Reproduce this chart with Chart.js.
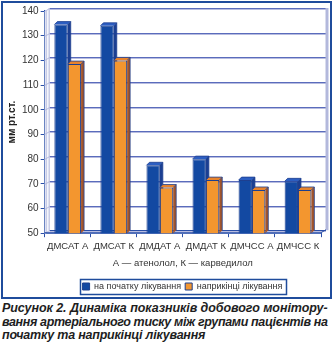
<!DOCTYPE html>
<html>
<head>
<meta charset="utf-8">
<script src="https://cdn.jsdelivr.net/npm/chart.js@4/dist/chart.umd.min.js"></script>
<style>
  body { margin: 0; background: #fff; }
  .box { position: absolute; left: 1px; top: 1px; width: 327px; height: 294px; border: 2px solid #1f4c9c; }
  #chart { position: absolute; left: 3px; top: 3px; }
  .caption { position: absolute; left: 2px; top: 302px; width: 326px; font-family: "Liberation Sans", Arial, sans-serif;
    font-weight: bold; font-style: italic; font-size: 12.5px; line-height: 13.5px; color: #1e1e1e; }
  .caption div { white-space: nowrap; }
</style>
</head>
<body>
<div class="box"></div>
<canvas id="chart" width="327" height="298"></canvas>
<div class="caption" id="caption">
  <div>Рисунок 2. Динаміка показників добового монітору-</div>
  <div>вання артеріального тиску між групами пацієнтів на</div>
  <div>початку та наприкінці лікування</div>
</div>
<script>
const categories = ['ДМСАТ А', 'ДМСАТ К', 'ДМДАТ А', 'ДМДАТ К', 'ДМЧСС А', 'ДМЧСС К'];
const startValues = [134.5, 134, 77.5, 80, 71.5, 71];
const endValues = [118.5, 120, 68.5, 71.5, 67.5, 67.5];
const yTicks = [50, 60, 70, 80, 90, 100, 110, 120, 130, 140];

const DX = 3, DY = 3;     // bar depth
const WX = 5, WY = 3;     // wall depth

function shade(ctx, pts, fill) {
  ctx.beginPath();
  ctx.moveTo(pts[0][0], pts[0][1]);
  for (let i = 1; i < pts.length; i++) ctx.lineTo(pts[i][0], pts[i][1]);
  ctx.closePath();
  ctx.fillStyle = fill;
  ctx.fill();
}

// walls, floor and gridlines drawn behind the bars
const walls = {
  id: 'walls',
  beforeDatasetsDraw(chart) {
    const { ctx, chartArea: a, scales: { y } } = chart;
    ctx.save();
    // floor
    shade(ctx, [[a.left, a.bottom], [a.right, a.bottom], [a.right + WX, a.bottom - WY], [a.left + WX, a.bottom - WY]], '#eef0fa');
    // left side wall
    shade(ctx, [[a.left, a.bottom], [a.left + WX, a.bottom - WY], [a.left + WX, a.top - WY], [a.left, a.top]], '#f4f5fb');
    ctx.lineWidth = 1;
    yTicks.forEach(v => {
      const py = Math.round(y.getPixelForValue(v)) + 0.5;
      ctx.strokeStyle = '#b7bce0';
      ctx.beginPath(); ctx.moveTo(a.left, py); ctx.lineTo(a.left + WX, py - WY); ctx.stroke();
      ctx.beginPath(); ctx.moveTo(a.left + WX, py - WY + 1); ctx.lineTo(a.right + WX, py - WY + 1); ctx.stroke();
      ctx.strokeStyle = v === 50 ? '#2a4fa8' : '#5a6cbc';
      ctx.beginPath(); ctx.moveTo(a.left + WX, py - WY); ctx.lineTo(a.right + WX, py - WY); ctx.stroke();
    });
    // back wall edges
    ctx.strokeStyle = '#b3b8dc';
    ctx.lineWidth = 3;
    ctx.beginPath(); ctx.moveTo(a.right + WX + 1, a.top - WY); ctx.lineTo(a.right + WX + 1, a.bottom - WY); ctx.stroke();
    ctx.lineWidth = 1;
    ctx.beginPath(); ctx.moveTo(a.left + WX - 0.5, a.top - WY); ctx.lineTo(a.left + WX - 0.5, a.bottom - WY); ctx.stroke();
    ctx.beginPath(); ctx.moveTo(a.left + 1.5, a.top); ctx.lineTo(a.left + 1.5, a.bottom); ctx.stroke();
    // floor edges
    ctx.strokeStyle = '#2a4fa8';
    ctx.beginPath();
    ctx.moveTo(a.left, a.bottom - 0.5); ctx.lineTo(a.right, a.bottom - 0.5);
    ctx.lineTo(a.right + WX, a.bottom - WY - 0.5);
    ctx.stroke();

    // bar side and top faces
    const sides = ['#1b3f92', '#a3552b'];
    const tops = ['#2c5ec2', '#e8832c'];
    const metas = [chart.getDatasetMeta(0), chart.getDatasetMeta(1)];
    categories.forEach((c, i) => {
      metas.forEach((m, d) => {
        const el = m.data[i];
        const l = el.x - el.width / 2, r = el.x + el.width / 2, t = el.y, b = Math.min(el.base, a.bottom);
        shade(ctx, [[r, b], [r + DX, b - DY], [r + DX, t - DY], [r, t]], sides[d]);
        shade(ctx, [[l, t], [r, t], [r + DX, t - DY], [l + DX, t - DY]], tops[d]);
        ctx.strokeStyle = '#1d3f8f';
        ctx.lineWidth = 0.8;
        ctx.beginPath();
        ctx.moveTo(l, t); ctx.lineTo(l + DX, t - DY); ctx.lineTo(r + DX, t - DY); ctx.lineTo(r + DX, b - DY);
        ctx.moveTo(r, t); ctx.lineTo(r + DX, t - DY);
        ctx.stroke();
      });
    });
    ctx.restore();
  }
};

// legend sits right of centre in a frame
const legendFrame = {
  id: 'legendFrame',
  afterLayout(chart) {
    chart.legend.left += 40;
  },
  afterDraw(chart) {
    const boxes = chart.legend.legendHitBoxes;
    if (!boxes || !boxes.length) return;
    const l = Math.min(...boxes.map(b => b.left)) - 3;
    const r = Math.max(...boxes.map(b => b.left + b.width)) + 3;
    const t = Math.min(...boxes.map(b => b.top)) - 3;
    const btm = Math.max(...boxes.map(b => b.top + b.height)) + 3;
    const ctx = chart.ctx;
    ctx.save();
    ctx.strokeStyle = '#1f4c9c';
    ctx.lineWidth = 1.5;
    ctx.strokeRect(Math.round(l) + 0.5, Math.round(t) + 0.5, Math.round(r - l), Math.round(btm - t));
    ctx.restore();
  }
};

new Chart(document.getElementById('chart'), {
  type: 'bar',
  data: {
    labels: categories,
    datasets: [
      { label: 'на початку лікування', data: startValues, backgroundColor: '#1349a2', borderColor: '#1d3f8f', borderWidth: 1 },
      { label: 'наприкінці лікування', data: endValues, backgroundColor: '#f3962f', borderColor: '#1d3f8f', borderWidth: 1 }
    ]
  },
  options: {
    responsive: false,
    animation: false,
    events: [],
    categoryPercentage: 0.58,
    barPercentage: 1,
    layout: { padding: { top: 6, right: 9, left: 1, bottom: 0 } },
    plugins: {
      tooltip: { enabled: false },
      legend: {
        position: 'bottom',
        labels: { boxWidth: 7, boxHeight: 7, padding: 4, color: '#333', font: { family: 'Liberation Sans, Arial', size: 9 } }
      }
    },
    scales: {
      x: {
        offset: true,
        grid: { offset: true, drawOnChartArea: false, tickLength: 4, color: '#2a4fa8' },
        border: { color: '#2a4fa8', width: 1 },
        ticks: { color: '#333', padding: 3, maxRotation: 0, minRotation: 0, autoSkip: false,
          font: { family: 'Liberation Sans, Arial', size: 9.5 } },
        title: { display: true, text: 'А — атенолол, К — карведилол', color: '#333', padding: { top: 3, bottom: 9 },
          font: { family: 'Liberation Sans, Arial', size: 9.5 } }
      },
      y: {
        min: 50, max: 140,
        afterBuildTicks: s => { s.ticks = yTicks.map(v => ({ value: v })); },
        grid: { drawOnChartArea: false, tickLength: 4, color: '#2a4fa8' },
        border: { color: '#2a4fa8', width: 1.5 },
        ticks: { color: '#333', padding: 2, font: { family: 'Liberation Sans, Arial', size: 10 } },
        title: { display: true, text: 'мм рт.ст.', color: '#222', padding: 2,
          font: { family: 'Liberation Sans, Arial', size: 10, weight: 'bold' } }
      }
    }
  },
  plugins: [walls, legendFrame]
});

// squeeze the two full caption lines to the reference width, last line uses the same spacing
const lines = document.querySelectorAll('#caption div');
let spacing = 0;
[0, 1].forEach(i => {
  const d = lines[i];
  const s = (326 - d.scrollWidth) / d.textContent.length;
  d.style.letterSpacing = s + 'px';
  spacing += s / 2;
});
lines[2].style.letterSpacing = spacing + 'px';
</script>
</body>
</html>
